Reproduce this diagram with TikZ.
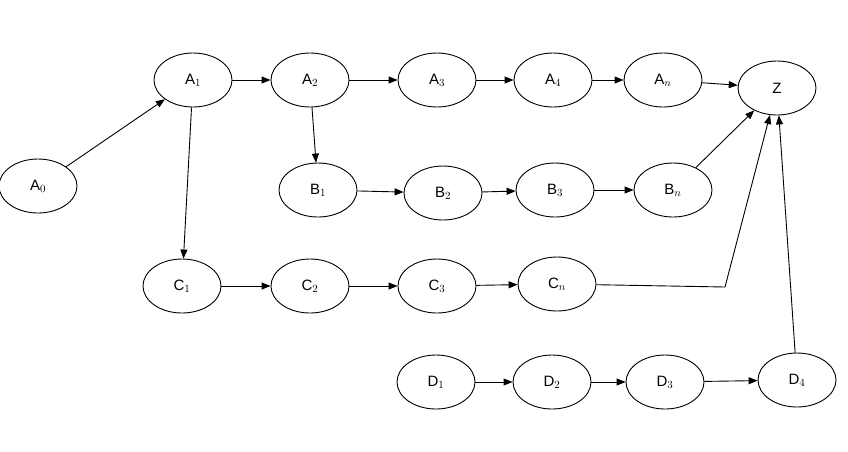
\documentclass[tikz,border=0pt]{standalone}
\usepackage{fontspec}
\setmainfont{Liberation Sans}
\usetikzlibrary{arrows.meta,shapes.geometric}
\begin{document}
\begin{tikzpicture}[x=1pt,y=-1pt,
  st/.style={ellipse,draw,line width=0.9pt,minimum width=78pt,minimum height=54pt,inner sep=0pt,font=\fontsize{15}{17}\selectfont},
  ar/.style={-{Triangle[length=9pt,width=7pt]},line width=0.9pt}]
\useasboundingbox (0,0) rectangle (848,451);
\node[st] (A0) at (38,186) {A$_0$};
\node[st] (A1) at (193,80) {A$_1$};
\node[st] (A2) at (310,80) {A$_2$};
\node[st] (A3) at (437,80) {A$_3$};
\node[st] (A4) at (553,80) {A$_4$};
\node[st] (An) at (663,80) {A$_n$};
\node[st] (Z) at (777,88) {Z};
\node[st] (B1) at (318,190) {B$_1$};
\node[st] (B2) at (443,193) {B$_2$};
\node[st] (B3) at (555,190) {B$_3$};
\node[st] (Bn) at (673,190) {B$_n$};
\node[st] (C1) at (182,286) {C$_1$};
\node[st] (C2) at (310,286) {C$_2$};
\node[st] (C3) at (437,286) {C$_3$};
\node[st] (Cn) at (557,284) {C$_n$};
\node[st] (D1) at (436,382) {D$_1$};
\node[st] (D2) at (552,382) {D$_2$};
\node[st] (D3) at (665,382) {D$_3$};
\node[st] (D4) at (797,380) {D$_4$};
\coordinate (k) at (725,287);
\draw[ar] (A0) -- (A1);
\draw[ar] (A1) -- (A2);
\draw[ar] (A2) -- (A3);
\draw[ar] (A3) -- (A4);
\draw[ar] (A4) -- (An);
\draw[ar] (An) -- (Z);
\draw[ar] (A2) -- (B1);
\draw[ar] (B1) -- (B2);
\draw[ar] (B2) -- (B3);
\draw[ar] (B3) -- (Bn);
\draw[ar] (Bn) -- (Z);
\draw[ar] (A1) -- (C1);
\draw[ar] (C1) -- (C2);
\draw[ar] (C2) -- (C3);
\draw[ar] (C3) -- (Cn);
\draw[line width=0.9pt] (Cn) -- (k);
\draw[ar] (k) -- (Z);
\draw[ar] (D1) -- (D2);
\draw[ar] (D2) -- (D3);
\draw[ar] (D3) -- (D4);
\draw[ar] (D4) -- (Z);
\end{tikzpicture}
\end{document}
